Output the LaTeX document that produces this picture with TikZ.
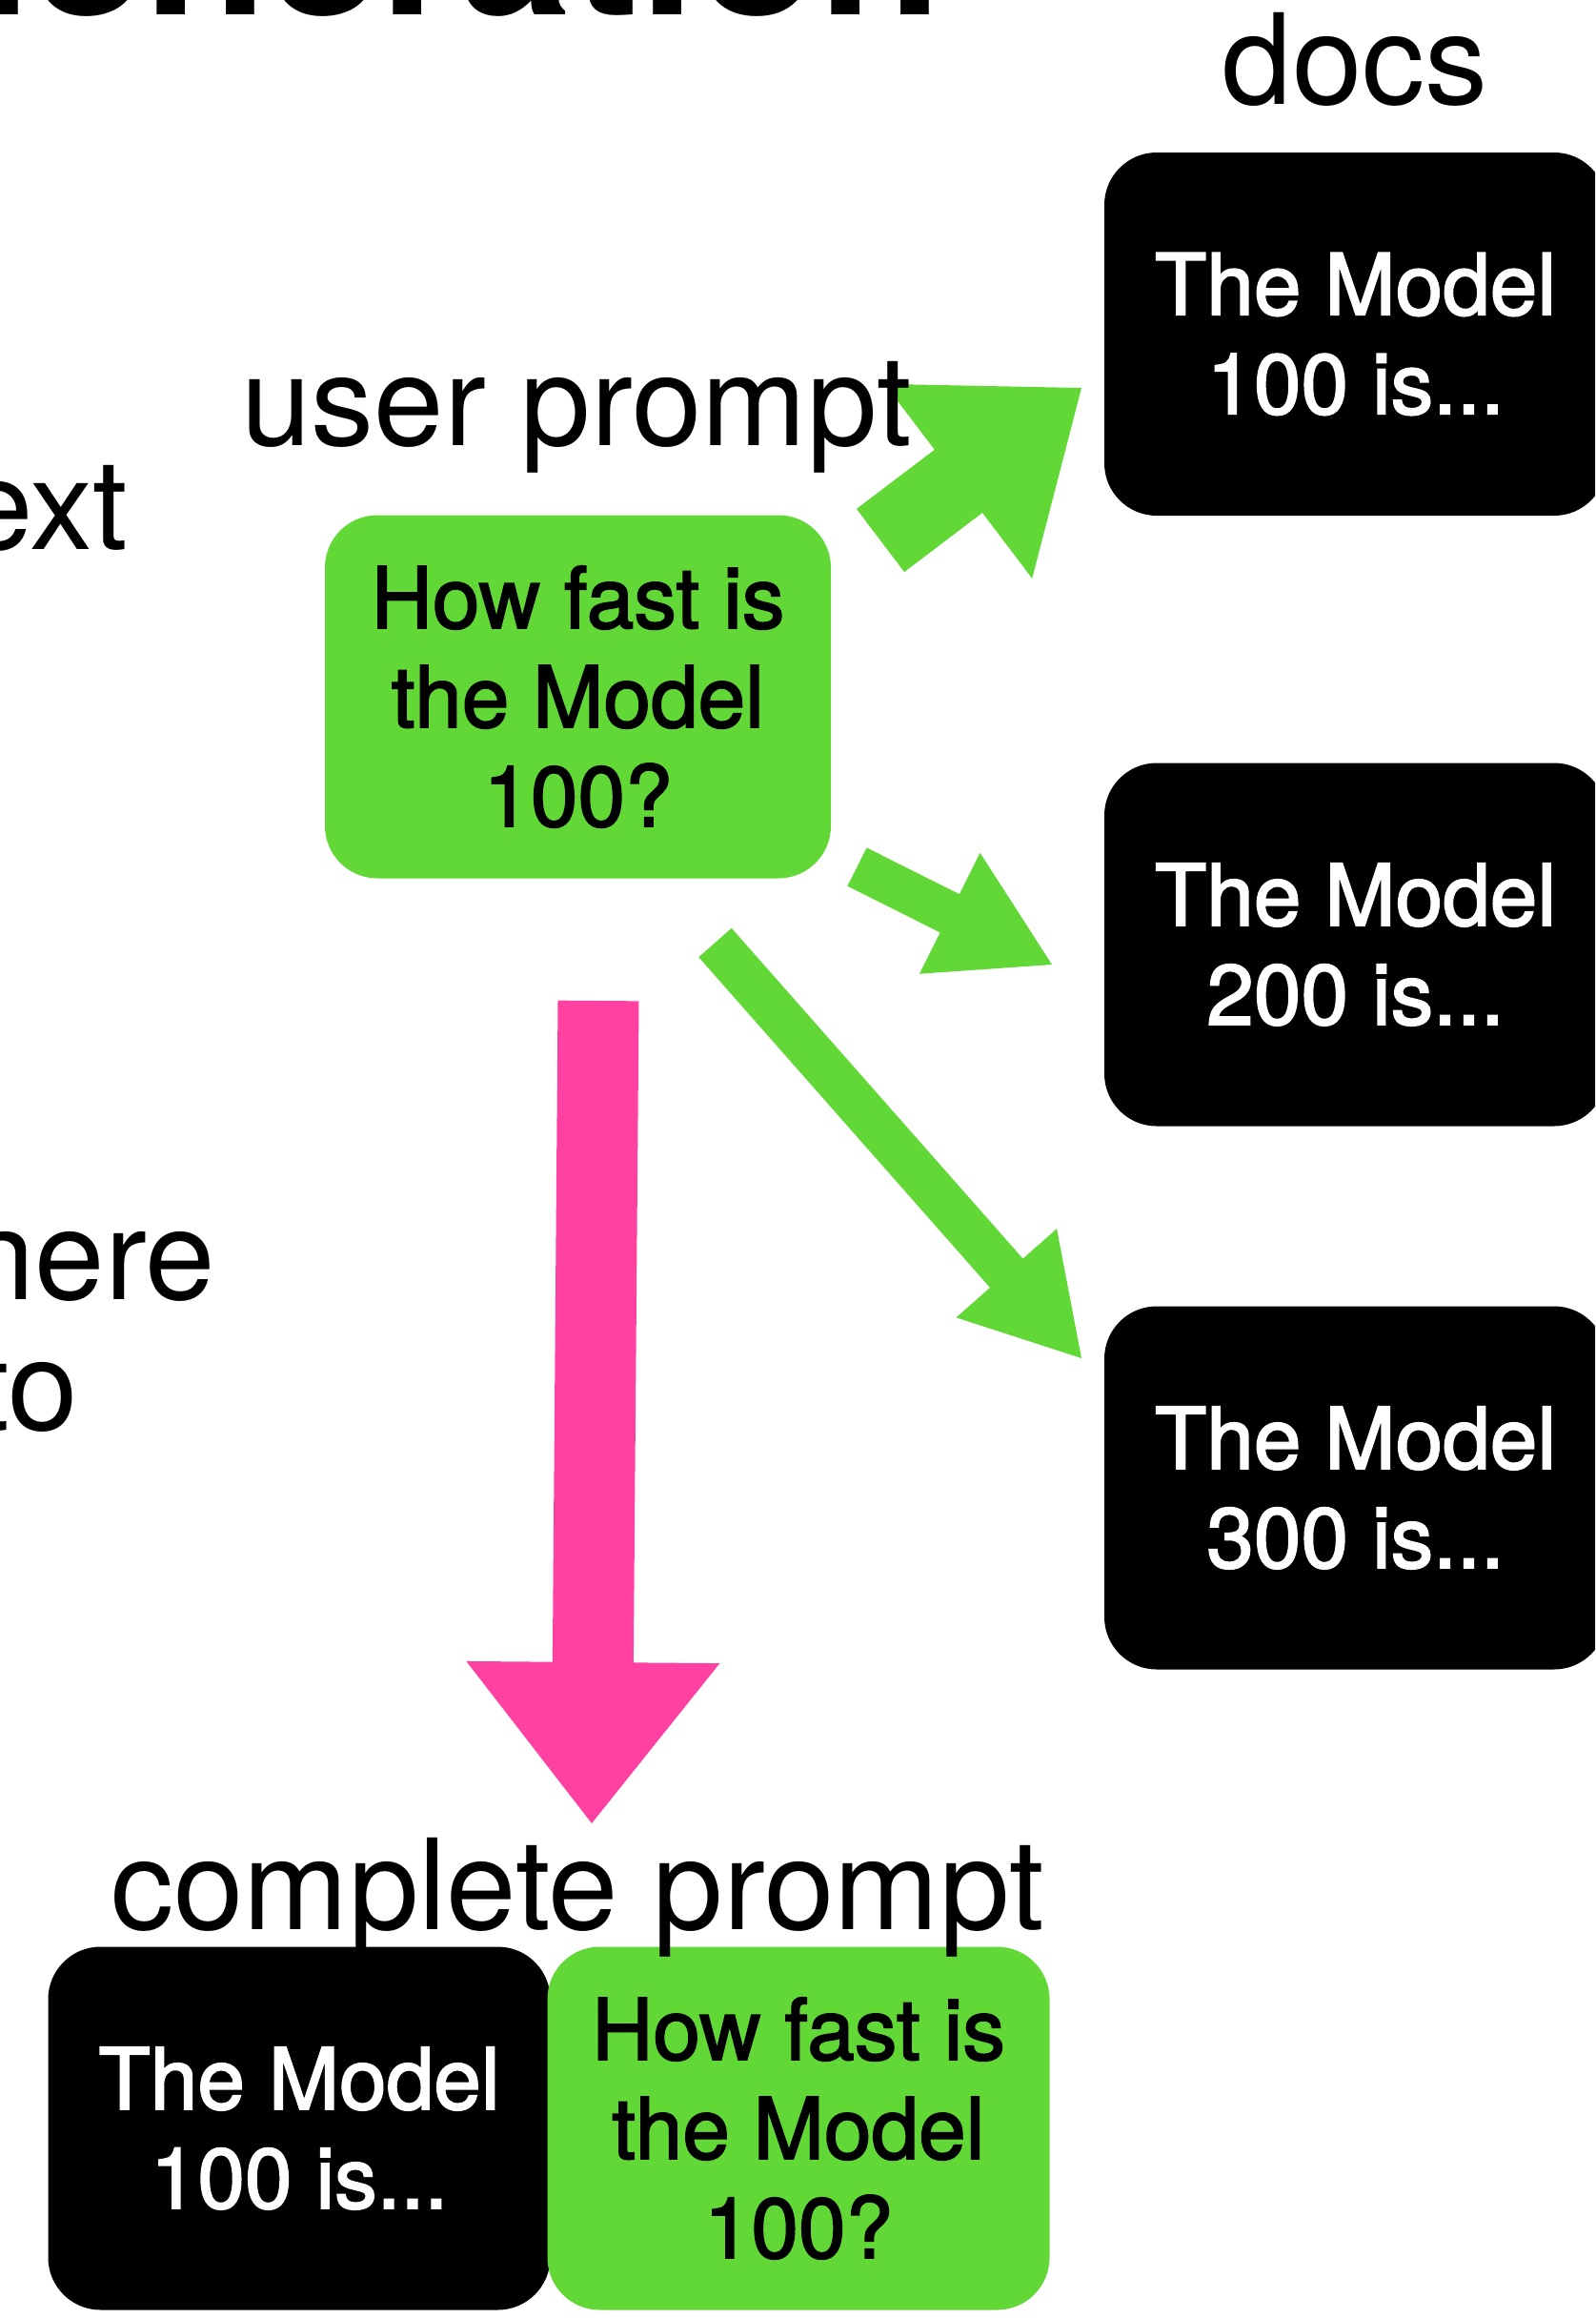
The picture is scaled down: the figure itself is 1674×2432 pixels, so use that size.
\documentclass[tikz,border=0pt]{standalone}
\usepackage{fontspec}
\setmainfont{TeX Gyre Heros}
\newfontfamily\medfont[FakeBold=2]{TeX Gyre Heros}
\usetikzlibrary{calc}
\definecolor{kgreen}{RGB}{97,216,54}
\definecolor{kpink}{RGB}{255,66,161}
% #1 tail, #2 tip, #3 half shaft width, #4 half head width, #5 head length, #6 colour
\newcommand\blockarrow[6]{%
  \coordinate (ba-base) at ($(#2)!#5!(#1)$);
  \fill[#6] ($(#1)!#3!90:(#2)$) -- ($(ba-base)!#3!90:(#2)$) -- ($(ba-base)!#4!90:(#2)$)
    -- (#2) -- ($(ba-base)!#4!-90:(#2)$) -- ($(ba-base)!#3!-90:(#2)$) -- ($(#1)!#3!-90:(#2)$) -- cycle;}
\begin{document}
\begin{tikzpicture}[x=0.25pt,y=-0.25pt,
  lbl/.style={font=\fontsize{33pt}{38pt}\selectfont, inner sep=0pt, anchor=base},
  card/.style={rounded corners=13.75pt, minimum width=131.75pt, minimum height=95.25pt,
    inner sep=0pt, align=center, font=\medfont\fontsize{22.3pt}{26pt}\selectfont},
  doccard/.style={card, fill=black, text=white},
  qcard/.style={card, fill=kgreen, text=black}]
\useasboundingbox (0,0) rectangle (1674,2432);
\clip (0,0) rectangle (1674,2432);

% partial slide texts
\node[anchor=base east, inner sep=0pt, font=\bfseries\fontsize{53pt}{60pt}\selectfont] (title) at (990,15) {Generation};
\node[lbl, anchor=base east] (ext) at (135,576) {ext};
\node[lbl, anchor=base east] (here) at (227,1363) {here};
\node[lbl, anchor=base east] (to) at (83,1500) {to};

% boxes
\node[doccard] (doc1) at (1422.5,350.5) {The Model\\100 is...};
\node[doccard] (doc2) at (1422.5,991) {The Model\\200 is...};
\node[doccard] (doc3) at (1422.5,1561) {The Model\\300 is...};
\node[qcard, minimum width=132.75pt] (q) at (606.5,731) {How fast is\\the Model\\100?};
\node[doccard] (cdoc) at (314,2233) {The Model\\100 is...};
\node[qcard] (cq) at (838,2233) {How fast is\\the Model\\100?};

% connector end points
\coordinate (tA) at (924,567);   \coordinate (hA) at (1135,407);
\coordinate (tB) at (899.5,909.5); \coordinate (hB) at (1104,1012);
\coordinate (tC) at (750.5,989); \coordinate (hC) at (1135,1425);
\coordinate (tP) at (628,1050);  \coordinate (hP) at (621,1913);

\blockarrow{tA}{hA}{10.375pt}{32pt}{40.5pt}{kgreen}
\blockarrow{tB}{hB}{5.625pt}{17.75pt}{30pt}{kgreen}
\blockarrow{tC}{hC}{5.75pt}{17.6pt}{29.75pt}{kgreen}
\blockarrow{tP}{hP}{10.625pt}{33.25pt}{42.25pt}{kpink}

% labels
\node[lbl] (docs) at (1422,109) {docs};
\node[lbl] (uplbl) at (605,467) {user prompt};
\node[lbl] (cplbl) at (606,2024) {complete prompt};
\end{tikzpicture}
\end{document}
